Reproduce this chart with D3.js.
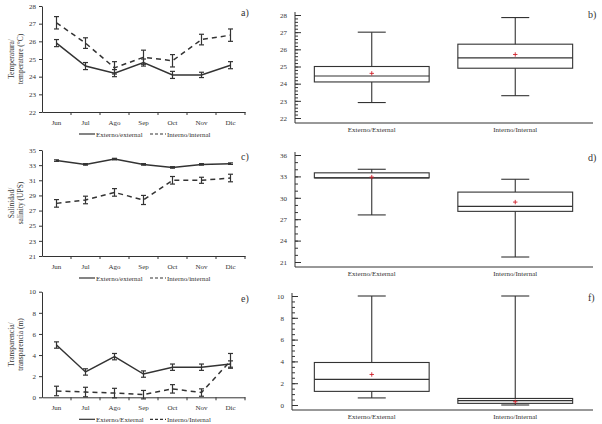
<!DOCTYPE html>
<html>
<head>
<meta charset="utf-8">
<script src="https://cdn.jsdelivr.net/npm/d3@7"></script>
<style>
  body { margin: 0; background: #fff; }
  svg { font-family: "Liberation Serif", "DejaVu Serif", serif; }
  .axis path, .axis line { stroke: #333; }
  .axis text { fill: #333; font-size: 7px; font-family: "Liberation Serif", serif; }
</style>
</head>
<body>
<svg id="chart" width="602" height="424"></svg>
<script>
// months
const months = ["Jun", "Jul", "Ago", "Sep", "Oct", "Nov", "Dic"];

// temperature (a)
const tempExt = [25.9, 24.6, 24.2, 24.8, 24.1, 24.1, 24.65];
const tempExtErr = [0.2, 0.2, 0.2, 0.2, 0.2, 0.15, 0.2];
const tempInt = [27.05, 25.9, 24.5, 25.1, 24.9, 26.1, 26.35];
const tempIntErr = [0.35, 0.3, 0.35, 0.4, 0.35, 0.3, 0.35];

// salinity (c)
const salExt = [33.6, 33.1, 33.8, 33.1, 32.7, 33.1, 33.2];
const salExtErr = [0.1, 0.1, 0.1, 0.1, 0.1, 0.1, 0.1];
const salInt = [27.95, 28.4, 29.4, 28.4, 31.0, 31.0, 31.3];
const salIntErr = [0.5, 0.5, 0.5, 0.6, 0.5, 0.4, 0.5];

// transparency (e)
const trExt = [4.95, 2.4, 3.85, 2.2, 2.85, 2.85, 3.15];
const trExtErr = [0.3, 0.3, 0.3, 0.3, 0.3, 0.3, 0.3];
const trInt = [0.6, 0.5, 0.4, 0.25, 0.8, 0.45, 3.45];
const trIntErr = [0.45, 0.45, 0.45, 0.4, 0.4, 0.35, 0.7];

// box plots: [whiskerLow, q1, median, q3, whiskerHigh, mean]
const boxCats = ["Externo/External", "Interno/Internal"];
const tempBox = [[22.9, 24.1, 24.45, 25.0, 27.0, 24.6], [23.3, 24.9, 25.5, 26.3, 27.85, 25.7]];
const salBox = [[27.6, 32.8, 32.8, 33.5, 34.0, 32.9], [21.7, 28.1, 28.8, 30.8, 32.6, 29.4]];
const trBox = [[0.65, 1.25, 2.35, 3.9, 10, 2.8], [0.0, 0.15, 0.4, 0.6, 10, 0.3]];

const svg = d3.select("#chart");
const ink = "#333";

function linePanel(top, bottom, domain, step, ext, extErr, intr, intErr, yLabel, legNames, tag) {
  const x = d3.scaleBand().domain(months).range([42, 245]);
  const y = d3.scaleLinear().domain(domain).range([bottom, top]);
  const g = svg.append("g");
  const ticks = d3.range(domain[0], domain[1] + 0.001, step);

  g.append("g").attr("class", "axis").attr("transform", `translate(42,0)`)
    .call(d3.axisLeft(y).tickValues(ticks).tickSize(3).tickSizeOuter(0).tickFormat(d3.format("d")));
  const xa = g.append("g").attr("class", "axis").attr("transform", `translate(0,${bottom})`)
    .call(d3.axisBottom(x).tickSize(0).tickPadding(8));
  xa.selectAll(".bt").data(x.domain().slice(1).concat(["end"])).join("line")
    .attr("x1", d => d === "end" ? 245 : x(d)).attr("x2", d => d === "end" ? 245 : x(d))
    .attr("y1", 0).attr("y2", 3).attr("stroke", ink);

  const cx = d => x(d) + x.bandwidth() / 2;
  const series = [[ext, extErr, null], [intr, intErr, "5,4"]];
  series.forEach(([vals, errs, dash]) => {
    const pts = months.map((m, i) => [m, vals[i], errs[i]]);
    g.append("path").datum(pts)
      .attr("d", d3.line().x(d => cx(d[0])).y(d => y(d[1])))
      .attr("fill", "none").attr("stroke", ink).attr("stroke-width", 1.5)
      .attr("stroke-dasharray", dash);
    const eb = g.append("g").selectAll("g").data(pts).join("g").attr("stroke", ink).attr("stroke-width", 1.2);
    eb.append("line").attr("x1", d => cx(d[0])).attr("x2", d => cx(d[0]))
      .attr("y1", d => y(d[1] - d[2])).attr("y2", d => y(d[1] + d[2]));
    eb.append("line").attr("x1", d => cx(d[0]) - 2.5).attr("x2", d => cx(d[0]) + 2.5)
      .attr("y1", d => y(d[1] - d[2])).attr("y2", d => y(d[1] - d[2]));
    eb.append("line").attr("x1", d => cx(d[0]) - 2.5).attr("x2", d => cx(d[0]) + 2.5)
      .attr("y1", d => y(d[1] + d[2])).attr("y2", d => y(d[1] + d[2]));
  });

  // legend
  const ly = bottom + 22;
  g.append("line").attr("x1", 79).attr("x2", 95).attr("y1", ly).attr("y2", ly).attr("stroke", ink).attr("stroke-width", 1.2);
  g.append("text").attr("x", 96).attr("y", ly + 2.5).attr("font-size", 7).attr("fill", ink).text(legNames[0]);
  g.append("line").attr("x1", 150).attr("x2", 166).attr("y1", ly).attr("y2", ly).attr("stroke", ink).attr("stroke-width", 1.2).attr("stroke-dasharray", "3,2");
  g.append("text").attr("x", 167).attr("y", ly + 2.5).attr("font-size", 7).attr("fill", ink).text(legNames[1]);

  // y label
  const midY = (top + bottom) / 2;
  const yl = g.append("text").attr("transform", `translate(14,${midY}) rotate(-90)`)
    .attr("text-anchor", "middle").attr("font-size", 7.5).attr("fill", ink);
  yl.append("tspan").attr("x", 0).attr("dy", 0).text(yLabel[0]);
  yl.append("tspan").attr("x", 0).attr("dy", 8.5).text(yLabel[1]);

  g.append("text").attr("x", 241).attr("y", top + 10).attr("font-size", 10).attr("fill", ink).text(tag);
}

function boxPanel(axisX, top, bottom, domain, step, minor, data, tag, tagY) {
  const y = d3.scaleLinear().domain(domain).range([bottom, top]);
  const x = d3.scaleBand().domain(boxCats).range([300, 587]).paddingInner(0.2).paddingOuter(0.1);
  const g = svg.append("g");
  const baseY = bottom + 5;
  const ticks = d3.range(domain[0], domain[1] + 0.001, step);
  const minorTicks = d3.range(domain[0], domain[1] + 0.001, minor);

  g.append("g").attr("class", "axis").attr("transform", `translate(${axisX},0)`)
    .call(d3.axisRight(y).tickValues(minorTicks).tickSize(3).tickSizeOuter(0).tickFormat(""))
    .call(a => a.select(".domain").remove());
  g.append("g").attr("class", "axis").attr("transform", `translate(${axisX},0)`)
    .call(d3.axisRight(y).tickValues(ticks).tickSize(6).tickSizeOuter(0).tickFormat(d3.format("d")))
    .call(a => a.select(".domain").remove())
    .call(a => a.selectAll("text").attr("x", -8).attr("text-anchor", "end"));
  g.append("line").attr("x1", axisX).attr("x2", axisX).attr("y1", top - 3).attr("y2", baseY).attr("stroke", ink);
  g.append("line").attr("x1", axisX).attr("x2", 593).attr("y1", baseY).attr("y2", baseY).attr("stroke", ink);

  g.selectAll(".cat").data(boxCats).join("text")
    .attr("x", d => x(d) + x.bandwidth() / 2).attr("y", baseY + 9)
    .attr("text-anchor", "middle").attr("font-size", 7).attr("fill", ink).text(d => d);

  const bw = x.bandwidth();
  data.forEach((b, i) => {
    const x0 = x(boxCats[i]), cx = x0 + bw / 2;
    const [lo, q1, med, q3, hi, mean] = b;
    const bg = g.append("g").attr("stroke", ink).attr("stroke-width", 1.1).attr("fill", "none");
    bg.append("line").attr("x1", cx).attr("x2", cx).attr("y1", y(hi)).attr("y2", y(q3));
    bg.append("line").attr("x1", cx).attr("x2", cx).attr("y1", y(q1)).attr("y2", y(lo));
    bg.append("line").attr("x1", cx - 14).attr("x2", cx + 14).attr("y1", y(hi)).attr("y2", y(hi));
    bg.append("line").attr("x1", cx - 14).attr("x2", cx + 14).attr("y1", y(lo)).attr("y2", y(lo));
    bg.append("rect").attr("x", x0).attr("width", bw).attr("y", y(q3)).attr("height", Math.max(1, y(q1) - y(q3)));
    bg.append("line").attr("x1", x0).attr("x2", x0 + bw).attr("y1", y(med)).attr("y2", y(med));
    const mg = g.append("g").attr("stroke", "#d0202a").attr("stroke-width", 0.9);
    mg.append("line").attr("x1", cx - 2.2).attr("x2", cx + 2.2).attr("y1", y(mean)).attr("y2", y(mean));
    mg.append("line").attr("x1", cx).attr("x2", cx).attr("y1", y(mean) - 2.2).attr("y2", y(mean) + 2.2);
  });

  g.append("text").attr("x", 588).attr("y", tagY).attr("font-size", 10).attr("fill", ink).text(tag);
}

linePanel(6, 112, [22, 28], 1, tempExt, tempExtErr, tempInt, tempIntErr,
  ["Temperatura/", "temperature (°C)"], ["Externo/external", "Interno/internal"], "a)");
linePanel(150, 256, [21, 35], 2, salExt, salExtErr, salInt, salIntErr,
  ["Salinidad/", "salinity (UPS)"], ["Externo/external", "Interno/internal"], "c)");
linePanel(291.7, 397.3, [0, 10], 2, trExt, trExtErr, trInt, trIntErr,
  ["Transparencia/", "transparencia (m)"], ["Externo/External", "Interno/Internal"], "e)");

boxPanel(295, 15, 118, [22, 28], 1, 0.2, tempBox, "b)", 18);
boxPanel(295, 155, 262, [21, 36], 3, 1, salBox, "d)", 161);
boxPanel(292, 296, 405, [0, 10], 2, 0.5, trBox, "f)", 301);
</script>
</body>
</html>
